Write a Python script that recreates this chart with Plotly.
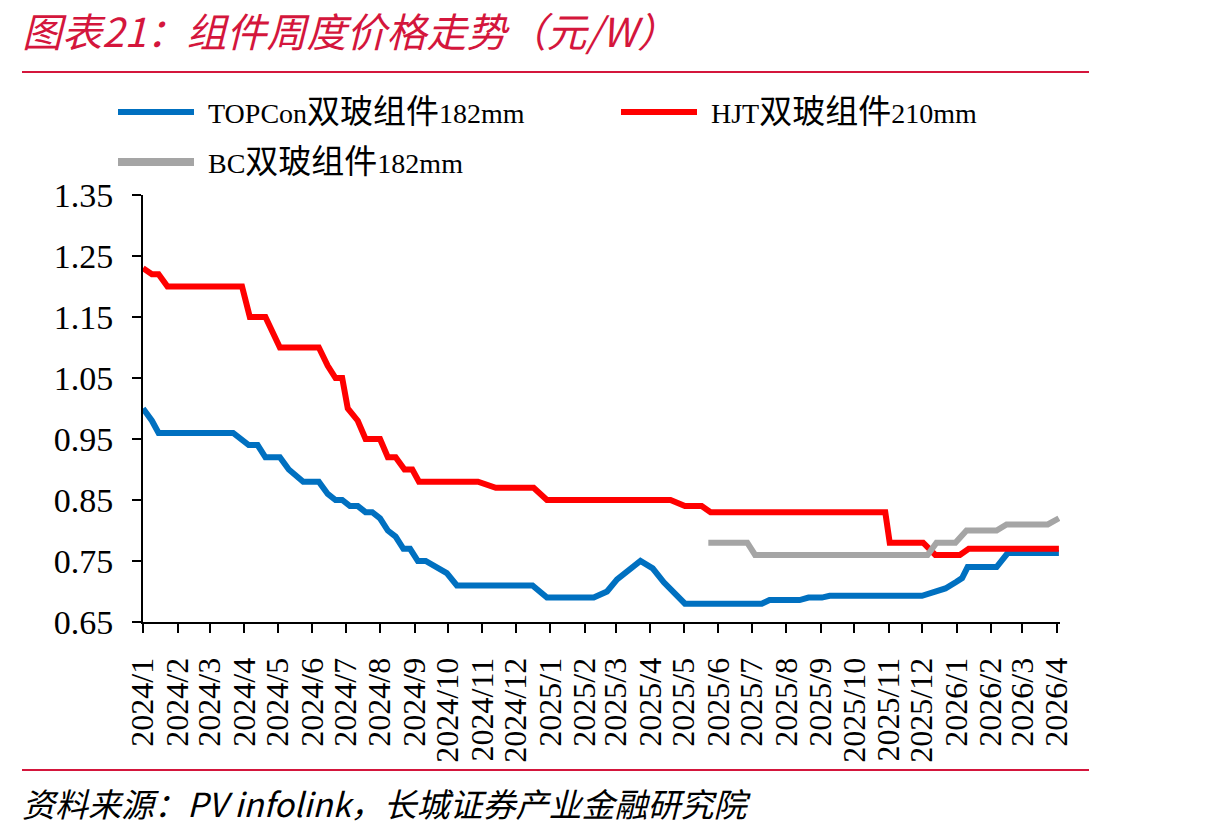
import plotly.graph_objects as go

# ---------------- data ----------------
topcon_dates = ["2024-01-01", "2024-01-09", "2024-01-15", "2024-03-22", "2024-04-05", "2024-04-13",
                "2024-04-20", "2024-05-03", "2024-05-11", "2024-05-24", "2024-06-07", "2024-06-15",
                "2024-06-22", "2024-06-28", "2024-07-05", "2024-07-12", "2024-07-19", "2024-07-25",
                "2024-08-01", "2024-08-08", "2024-08-15", "2024-08-22", "2024-08-28", "2024-09-04",
                "2024-09-11", "2024-09-20", "2024-09-30", "2024-10-09", "2024-12-16", "2024-12-29",
                "2025-02-09", "2025-02-21", "2025-03-02", "2025-03-23", "2025-04-03", "2025-04-13",
                "2025-04-22", "2025-05-02", "2025-07-10", "2025-07-17", "2025-08-13", "2025-08-21",
                "2025-09-02", "2025-09-09", "2025-12-01", "2025-12-11", "2025-12-22", "2026-01-01",
                "2026-01-06", "2026-01-11", "2026-02-06", "2026-02-16", "2026-04-03"]
topcon_values = [1.00, 0.98, 0.96, 0.96, 0.94, 0.94,
                 0.92, 0.92, 0.90, 0.88, 0.88, 0.86,
                 0.85, 0.85, 0.84, 0.84, 0.83, 0.83,
                 0.82, 0.80, 0.79, 0.77, 0.77, 0.75,
                 0.75, 0.74, 0.73, 0.71, 0.71, 0.69,
                 0.69, 0.70, 0.72, 0.75, 0.738, 0.715,
                 0.697, 0.68, 0.68, 0.686, 0.686, 0.69,
                 0.69, 0.693, 0.693, 0.699, 0.705, 0.716,
                 0.722, 0.74, 0.74, 0.763, 0.763]

hjt_dates = ["2024-01-01", "2024-01-09", "2024-01-15", "2024-01-23", "2024-03-30", "2024-04-06",
             "2024-04-20", "2024-05-03", "2024-06-07", "2024-06-15", "2024-06-22", "2024-06-28",
             "2024-07-03", "2024-07-12", "2024-07-19", "2024-08-01", "2024-08-08", "2024-08-15",
             "2024-08-23", "2024-08-30", "2024-09-05", "2024-10-28", "2024-11-13", "2024-12-17",
             "2024-12-29", "2025-04-19", "2025-05-02", "2025-05-17", "2025-05-25", "2025-10-29",
             "2025-11-02", "2025-12-02", "2025-12-13", "2026-01-04", "2026-01-12", "2026-04-03"]
hjt_values = [1.23, 1.22, 1.22, 1.20, 1.20, 1.15,
              1.15, 1.10, 1.10, 1.07, 1.05, 1.05,
              1.00, 0.98, 0.95, 0.95, 0.92, 0.92,
              0.90, 0.90, 0.88, 0.88, 0.87, 0.87,
              0.85, 0.85, 0.84, 0.84, 0.83, 0.83,
              0.78, 0.78, 0.76, 0.76, 0.77, 0.77]

bc_dates = ["2025-05-23", "2025-06-27", "2025-07-04", "2025-12-06", "2025-12-14", "2025-12-31",
            "2026-01-10", "2026-02-06", "2026-02-15", "2026-03-24", "2026-04-03"]
bc_values = [0.78, 0.78, 0.76, 0.76, 0.78, 0.78,
             0.80, 0.80, 0.81, 0.81, 0.82]

series_names = ["TOPCon双玻组件182mm", "HJT双玻组件210mm", "BC双玻组件182mm"]
series_colors = ["#0070C0", "#FF0000", "#A5A5A5"]

month_ticks = ["2024-01-01", "2024-02-01", "2024-03-01", "2024-04-01", "2024-05-01", "2024-06-01",
               "2024-07-01", "2024-08-01", "2024-09-01", "2024-10-01", "2024-11-01", "2024-12-01",
               "2025-01-01", "2025-02-01", "2025-03-01", "2025-04-01", "2025-05-01", "2025-06-01",
               "2025-07-01", "2025-08-01", "2025-09-01", "2025-10-01", "2025-11-01", "2025-12-01",
               "2026-01-01", "2026-02-01", "2026-03-01", "2026-04-01"]
month_labels = ["2024/1", "2024/2", "2024/3", "2024/4", "2024/5", "2024/6", "2024/7", "2024/8",
                "2024/9", "2024/10", "2024/11", "2024/12", "2025/1", "2025/2", "2025/3", "2025/4",
                "2025/5", "2025/6", "2025/7", "2025/8", "2025/9", "2025/10", "2025/11", "2025/12",
                "2026/1", "2026/2", "2026/3", "2026/4"]
y_ticks = [0.65, 0.75, 0.85, 0.95, 1.05, 1.15, 1.25, 1.35]
y_labels = ["0.65", "0.75", "0.85", "0.95", "1.05", "1.15", "1.25", "1.35"]

title_text = "图表21：组件周度价格走势（元/W）"
source_text = "资料来源：PV infolink，长城证券产业金融研究院"

# ---------------- layout geometry ----------------
W, H = 1210, 835
L, R, T, B = 143, 150, 195, 213
PW = W - L - R
PH = H - T - B
ACCENT = "#D4163C"
SERIF = "Liberation Serif, Noto Sans CJK SC, serif"
SANS = "Noto Sans CJK SC, sans-serif"


def px(x):
    return (x - L) / PW


def py(y):
    return (H - B - y) / PH


fig = go.Figure()
for d, v, n, c in zip([topcon_dates, hjt_dates, bc_dates],
                      [topcon_values, hjt_values, bc_values],
                      series_names, series_colors):
    fig.add_trace(go.Scatter(x=d, y=v, name=n, mode="lines",
                             line=dict(color=c, width=6), showlegend=False))

shapes = [
    dict(type="line", xref="paper", yref="paper", x0=px(22), x1=px(1089), y0=py(72), y1=py(72),
         line=dict(color=ACCENT, width=2)),
    dict(type="line", xref="paper", yref="paper", x0=px(22), x1=px(1089), y0=py(770), y1=py(770),
         line=dict(color=ACCENT, width=2)),
]
annotations = [
    dict(text=title_text, xref="paper", yref="paper", x=px(20), y=py(30), xanchor="left",
         yanchor="middle", showarrow=False,
         font=dict(family=SANS, size=40, color=ACCENT, style="italic")),
    dict(text=source_text, xref="paper", yref="paper", x=px(20), y=py(803), xanchor="left",
         yanchor="middle", showarrow=False,
         font=dict(family=SANS, size=33, color="#000000", style="italic")),
]

# legend drawn as line samples + labels
legend_pos = [(115, 112), (618, 112), (115, 162)]
legend_widths = [6, 6, 8]
for (lx, ly), n, c, lw in zip(legend_pos, series_names, series_colors, legend_widths):
    shapes.append(dict(type="line", xref="paper", yref="paper", x0=px(lx + 3), x1=px(lx + 79),
                       y0=py(ly), y1=py(ly), line=dict(color=c, width=lw)))
    latin_pre = n[:n.index("双")]
    cjk = "双玻组件"
    latin_post = n[n.index("件") + 1:]
    txt = latin_pre + '<span style="font-size:33px">' + cjk + '</span>' + latin_post
    annotations.append(dict(text=txt, xref="paper", yref="paper", x=px(lx + 91), y=py(ly),
                            xanchor="left", yanchor="middle", showarrow=False,
                            font=dict(family=SERIF, size=28, color="#000000")))

fig.update_layout(
    width=W, height=H,
    margin=dict(l=L, r=R, t=T, b=B),
    paper_bgcolor="white", plot_bgcolor="white",
    shapes=shapes, annotations=annotations,
    showlegend=False,
    xaxis=dict(type="date", range=["2024-01-01", "2026-04-04"],
               tickmode="array", tickvals=month_ticks, ticktext=month_labels,
               tickangle=-90, ticks="outside", ticklen=9, tickwidth=2, tickcolor="black",
               showline=True, linecolor="black", linewidth=2, showgrid=False, zeroline=False,
               tickfont=dict(family=SERIF, size=32, color="black"), ticklabelstandoff=12),
    yaxis=dict(range=[0.65, 1.35], tickmode="array", tickvals=y_ticks, ticktext=y_labels,
               ticks="outside", ticklen=9, tickwidth=2, tickcolor="black",
               showline=True, linecolor="black", linewidth=2, showgrid=False, zeroline=False,
               tickfont=dict(family=SERIF, size=34, color="black"), ticklabelstandoff=12),
)

fig.write_html("out.html")
